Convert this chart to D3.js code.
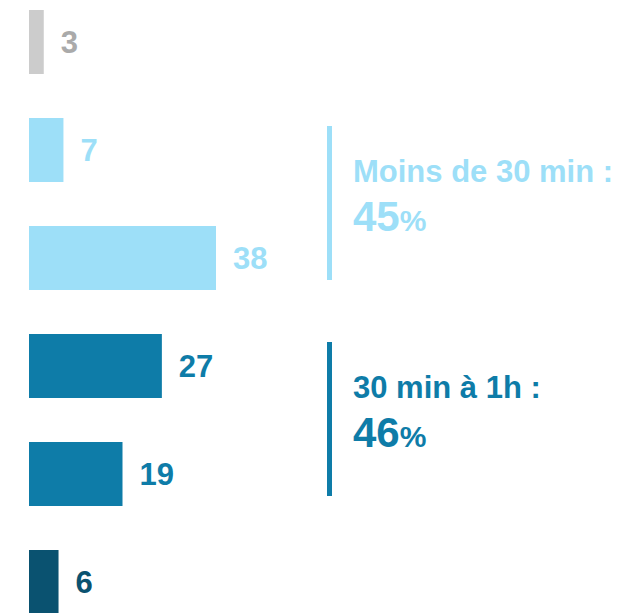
<!DOCTYPE html>
<html>
<head>
<meta charset="utf-8">
<script src="https://cdn.jsdelivr.net/npm/d3@7"></script>
<style>
  body { margin: 0; background: #fff; }
  text { font-family: "Liberation Sans", Arial, sans-serif; font-weight: bold; }
</style>
</head>
<body>
<div id="chart-area"><svg></svg></div>
<script>
const categories = ['nsp', 'moins15', '15a30', '30a45', '45a60', 'plus1h'];
const values = [3, 7, 38, 27, 19, 6];
const barColors = ['#cccccc', '#9ddff8', '#9ddff8', '#0e7ca8', '#0e7ca8', '#0a5270'];
const labelColors = ['#aaaaaa', '#9ddff8', '#9ddff8', '#0e7ca8', '#0e7ca8', '#0a5270'];

const groupLabels = ['Moins de 30 min :', '30 min à 1h :'];
const groupTotals = [45, 46];
const groupMembers = [['moins15', '15a30'], ['30a45', '45a60']];
const groupColors = ['#9ddff8', '#0e7ca8'];

const chartSize = { width: 635, height: 613 };
const margin = { left: 29, top: 10 };

const draw = () => {
  const svg = d3.select('#chart-area svg')
    .attr('width', chartSize.width)
    .attr('height', chartSize.height);

  const y = d3.scaleBand()
    .domain(categories)
    .range([margin.top, margin.top + 6 * 108 - 44])
    .paddingInner(44 / 108)
    .paddingOuter(0);

  const x = d3.scaleLinear()
    .domain([0, 38])
    .range([0, 187]);

  const bars = svg.append('g');

  bars.selectAll('rect')
    .data(values)
    .enter()
    .append('rect')
    .attr('x', margin.left)
    .attr('y', (d, i) => y(categories[i]))
    .attr('width', d => x(d))
    .attr('height', y.bandwidth())
    .attr('fill', (d, i) => barColors[i]);

  bars.selectAll('text')
    .data(values)
    .enter()
    .append('text')
    .attr('x', d => margin.left + x(d) + 17)
    .attr('y', (d, i) => y(categories[i]) + y.bandwidth() / 2 + 11)
    .attr('font-size', 31)
    .attr('fill', (d, i) => labelColors[i])
    .text(d => d);

  // group annotations on the right
  groupLabels.forEach((label, i) => {
    const members = groupMembers[i];
    const top = y(members[0]);
    const bottom = y(members[members.length - 1]) + y.bandwidth();
    const mid = (top + bottom) / 2 - 1;
    const g = svg.append('g');

    g.append('line')
      .attr('x1', 329.5)
      .attr('x2', 329.5)
      .attr('y1', mid - 77)
      .attr('y2', mid + 77)
      .attr('stroke', groupColors[i])
      .attr('stroke-width', 5);

    g.append('text')
      .attr('x', 353)
      .attr('y', mid - 21)
      .attr('font-size', 31)
      .attr('fill', groupColors[i])
      .text(label);

    const big = g.append('text')
      .attr('x', 353)
      .attr('y', mid + 28)
      .attr('font-size', 42)
      .attr('fill', groupColors[i]);
    big.append('tspan').text(groupTotals[i]);
    big.append('tspan').attr('font-size', 30).text('%');
  });
};

draw();
</script>
</body>
</html>
